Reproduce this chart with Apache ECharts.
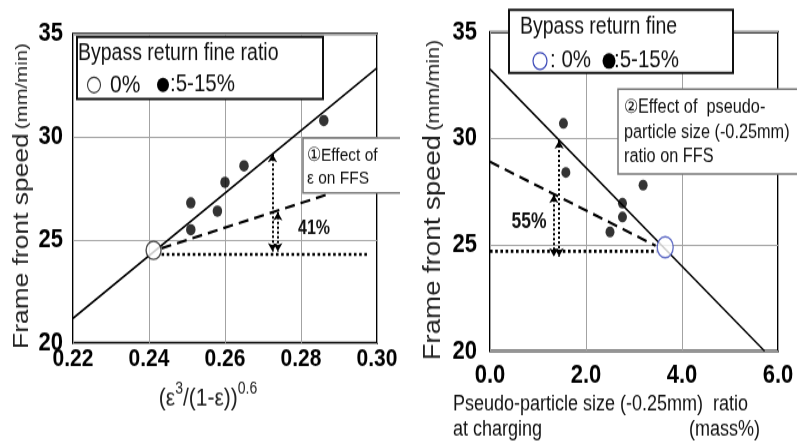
<!DOCTYPE html>
<html><head><meta charset="utf-8">
<script src="https://cdn.jsdelivr.net/npm/echarts@6/dist/echarts.min.js"></script>
<style>
html,body{margin:0;padding:0;background:#fff;width:797px;height:444px;overflow:hidden}
/* the figure is drawn on a 797x370 canvas and stretched vertically to 444 px */
#c{width:797px;height:370px;transform:scaleY(1.2);transform-origin:0 0}
</style>
</head><body><div id="c"></div><script>
// ---- Left panel: flame front speed vs (ε³/(1-ε))^0.6 ----
const leftXRange = [0.22, 0.30];
const leftXStep = 0.02;
const yRange = [20, 35];
const yStep = 5;
const leftBase = [[0.2412, 24.5]];                 // 0 % bypass return fine
const leftFines = [[0.251, 26.8], [0.251, 25.5], [0.258, 26.4], [0.260, 27.8], [0.265, 28.6], [0.286, 30.8]];
const leftFit = [[0.22, 21.2], [0.30, 33.35]];
const leftPartial = [[0.2433, 24.6], [0.2876, 27.25]];
const leftBaseLevel = [[0.2433, 24.3], [0.2975, 24.3]];
const leftArrows = [[0.2725, 29.18, 24.45], [0.2739, 26.35, 24.45]];
const leftGain = '41%';

// ---- Right panel: flame front speed vs pseudo-particle (-0.25mm) ratio ----
const rightXRange = [0, 6];
const rightXStep = 2;
const rightBase = [[3.65, 24.88]];
const rightFines = [[1.53, 30.7], [1.58, 28.4], [3.19, 27.8], [2.76, 26.95], [2.76, 26.3], [2.5, 25.6]];
const rightFit = [[0, 33.25], [5.72, 20]];
const rightPartial = [[0, 28.9], [3.45, 24.95]];
const rightBaseLevel = [[0, 24.69], [3.47, 24.69]];
const rightArrows = [[1.33, 27.35, 24.45], [1.44, 29.9, 24.45]];
const rightGain = '55%';

const SANS = "'Liberation Sans',Arial,sans-serif";
const SY = 1.2;                       // vertical stretch applied by CSS
const Y = v => v / SY;                // page y -> canvas y

function arrowLines(list) {
  return list.map(a => [{ coord: [a[0], a[1]] }, { coord: [a[0], a[2]] }]);
}

function xAxisOf(idx, range, step, digits, size, margin) {
  return {
    gridIndex: idx, type: 'value', min: range[0], max: range[1], interval: step,
    axisLine: { show: false }, axisTick: { show: false },
    splitLine: { show: true, lineStyle: { color: '#a3a3a3', width: 1 } },
    axisLabel: { formatter: v => v.toFixed(digits), color: '#000', fontFamily: SANS,
      fontWeight: 'bold', fontSize: size, margin: margin }
  };
}
function yAxisOf(idx, size, margin) {
  return {
    gridIndex: idx, type: 'value', min: yRange[0], max: yRange[1], interval: yStep,
    axisLine: { show: false }, axisTick: { show: false },
    splitLine: { show: true, lineStyle: { color: '#a3a3a3', width: 1 } },
    axisLabel: { color: '#000', fontFamily: SANS, fontWeight: 'bold', fontSize: size, margin: margin }
  };
}

function panelSeries(idx, fit, partial, baseLevel, arrows, base, fines, baseColor, baseSize, fineSize) {
  const common = { xAxisIndex: idx, yAxisIndex: idx, silent: true, animation: false };
  return [
    Object.assign({ type: 'line', name: 'fit', data: fit, showSymbol: false,
      lineStyle: { color: '#000', width: 1.6 }, z: 2 }, common),
    Object.assign({ type: 'line', name: 'partial', data: partial, showSymbol: false,
      lineStyle: { color: '#000', width: 2.2, type: [10, 6] }, z: 2 }, common),
    Object.assign({ type: 'line', name: 'base level', data: baseLevel, showSymbol: false,
      lineStyle: { color: '#000', width: 2.6, type: [2.6, 2.6] }, z: 2,
      markLine: { silent: true, symbol: ['arrow', 'arrow'], symbolSize: [7, 7], label: { show: false },
        lineStyle: { color: '#000', width: 2, type: [2, 2] }, data: arrowLines(arrows) } }, common),
    Object.assign({ type: 'scatter', name: '5-15%', data: fines, symbol: 'circle', symbolSize: fineSize,
      itemStyle: { color: '#000' }, z: 4 }, common),
    Object.assign({ type: 'scatter', name: '0%', data: base, symbol: 'circle', symbolSize: baseSize,
      itemStyle: { color: '#fff', borderColor: baseColor, borderWidth: 1.4 }, z: 5 }, common)
  ];
}

const chart = echarts.init(document.getElementById('c'), null, { renderer: 'canvas' });

const txt = (x, y, text, size, extra) => ({ type: 'text', x: x, y: Y(y), z: 20,
  style: Object.assign({ text: text, font: 'normal ' + size + 'px ' + SANS, fill: '#111',
    textVerticalAlign: 'middle' }, extra || {}) });

chart.setOption({
  animation: false,
  backgroundColor: '#fff',
  grid: [
    { left: 73, top: Y(34), width: 304, height: Y(309), show: true, borderColor: '#000', borderWidth: 2, containLabel: false },
    { left: 490, top: Y(32), width: 288, height: Y(319), show: true, borderColor: '#000', borderWidth: 2, containLabel: false }
  ],
  xAxis: [xAxisOf(0, leftXRange, leftXStep, 2, 21, 3), xAxisOf(1, rightXRange, rightXStep, 1, 22, 9)],
  yAxis: [yAxisOf(0, 22, 10), yAxisOf(1, 22, 13)],
  series: [].concat(
    panelSeries(0, leftFit, leftPartial, leftBaseLevel, leftArrows, leftBase, leftFines, '#222', 15, 9.5),
    panelSeries(1, rightFit, rightPartial, rightBaseLevel, rightArrows, rightBase, rightFines, '#3a48b8', [16, 17.5], 9)
  ),
  graphic: [
    // y-axis titles
    { type: 'text', x: 22, y: Y(196), rotation: Math.PI / 2, z: 20,
      style: { text: '{a|Frame front speed} {b|(mm/min)}', textAlign: 'center', textVerticalAlign: 'middle',
        rich: { a: { fontFamily: SANS, fontSize: 22, fill: '#222' }, b: { fontFamily: SANS, fontSize: 17, fill: '#222' } } } },
    { type: 'text', x: 434, y: Y(200), rotation: Math.PI / 2, z: 20,
      style: { text: '{a|Frame front speed} {b|(mm/min)}', textAlign: 'center', textVerticalAlign: 'middle',
        rich: { a: { fontFamily: SANS, fontSize: 23, fill: '#222' }, b: { fontFamily: SANS, fontSize: 18, fill: '#222' } } } },
    // x-axis titles
    { type: 'text', x: 208, y: Y(396), z: 20,
      style: { text: '{m|(ε}{s|3}{m|/(1-ε))}{s|0.6}', textAlign: 'center', textVerticalAlign: 'middle',
        rich: { m: { fontFamily: SANS, fontSize: 21, fill: '#222', verticalAlign: 'bottom', lineHeight: 26 },
                s: { fontFamily: SANS, fontSize: 14, fill: '#222', verticalAlign: 'top', lineHeight: 26 } } } },
    txt(453, 405, 'Pseudo-particle size (-0.25mm)  ratio', 18),
    txt(453, 430, 'at charging', 18),
    txt(760, 430, '(mass%)', 18, { textAlign: 'right' }),

    // left legend box
    { type: 'rect', z: 15, shape: { x: 77, y: Y(37), width: 246, height: Y(62) },
      style: { fill: '#fff', stroke: '#111', lineWidth: 2 } },
    txt(78, 54, 'Bypass return fine ratio', 19.5),
    { type: 'circle', z: 20, shape: { cx: 94, cy: Y(85), r: 6.5 }, style: { fill: '#fff', stroke: '#333', lineWidth: 1.1 } },
    txt(110, 85, '0%', 21),
    { type: 'circle', z: 20, shape: { cx: 163, cy: Y(85), r: 6 }, style: { fill: '#000' } },
    txt(170, 85, ':5-15%', 20.5),

    // left annotation box
    { type: 'rect', z: 15, shape: { x: 303, y: Y(138), width: 100, height: Y(55) }, style: { fill: '#fff', stroke: 'none' } },
    { type: 'polyline', z: 16, shape: { points: [[400, Y(138)], [303, Y(138)], [303, Y(193)], [400, Y(193)]] },
      style: { fill: 'none', stroke: '#777', lineWidth: 1.5 } },
    txt(307, 156, '①Effect of', 15.5),
    txt(307, 178, 'ε on FFS', 15.5),
    txt(314, 229, leftGain, 16, { textAlign: 'center', font: 'bold 16px ' + SANS }),

    // right legend box
    { type: 'rect', z: 15, shape: { x: 509, y: Y(10), width: 224, height: Y(63) },
      style: { fill: '#fff', stroke: '#111', lineWidth: 2 } },
    txt(520, 27, 'Bypass return fine', 19.5),
    { type: 'circle', z: 20, shape: { cx: 540, cy: Y(61), r: 7 }, style: { fill: '#fff', stroke: '#3a48b8', lineWidth: 1.2 } },
    txt(550, 61, ': 0%', 20.5),
    { type: 'circle', z: 20, shape: { cx: 609, cy: Y(61), r: 6.5 }, style: { fill: '#000' } },
    txt(614, 61, ':5-15%', 20.5),

    // right annotation box
    { type: 'rect', z: 15, shape: { x: 618, y: Y(89), width: 190, height: Y(85) },
      style: { fill: '#fff', stroke: '#777', lineWidth: 1.5 } },
    txt(624, 108, '②Effect of  pseudo-', 16.3),
    txt(624, 133, 'particle size (-0.25mm)', 16.3),
    txt(624, 157, 'ratio on FFS', 16.3),
    txt(529, 222, rightGain, 17.5, { textAlign: 'center', font: 'bold 17.5px ' + SANS })
  ]
});
</script></body></html>
